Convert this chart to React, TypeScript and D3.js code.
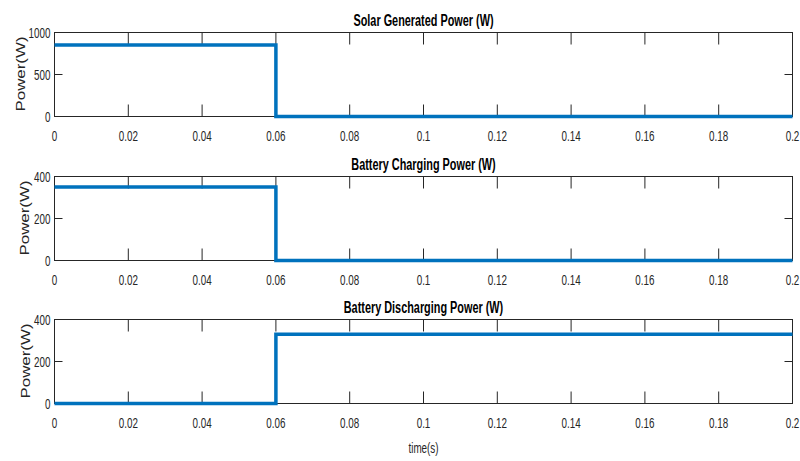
import React from "react";
import * as d3 from "d3";

// Simulation time samples where the power profiles change (s)
const timeBreaks = [0, 0.06, 0.06, 0.2];
const solarPower = [850, 850, 0, 0];
const chargingPower = [350, 350, 0, 0];
const dischargingPower = [0, 0, 330, 330];

const panelTitles = [
  "Solar Generated Power (W)",
  "Battery Charging Power (W)",
  "Battery Discharging Power (W)",
];
const yMaxima = [1000, 400, 400];
const yTickSets = [
  [0, 500, 1000],
  [0, 200, 400],
  [0, 200, 400],
];
const xTickValues = [0, 0.02, 0.04, 0.06, 0.08, 0.1, 0.12, 0.14, 0.16, 0.18, 0.2];

const W = 800;
const H = 461;
const left = 54.5;
const right = 792.5;
const panelTops = [32.5, 176.5, 319.5];
const panelHeight = 84;
const lineColor = "#0072BD";
const axisColor = "#262626";
const font = "'Liberation Sans', Arial, sans-serif";

// Condensed text: horizontally compressed Liberation Sans
function NarrowText({
  x,
  y,
  anchor = "middle",
  size = 14,
  squeeze = 0.7,
  weight = "normal",
  fill = axisColor,
  children,
}: {
  x: number;
  y: number;
  anchor?: "start" | "middle" | "end";
  size?: number;
  squeeze?: number;
  weight?: string;
  fill?: string;
  children: React.ReactNode;
}) {
  return (
    <text
      transform={`translate(${x},${y}) scale(${squeeze},1)`}
      textAnchor={anchor}
      fontFamily={font}
      fontSize={size}
      fontWeight={weight}
      fill={fill}
    >
      {children}
    </text>
  );
}

const ylabelPos = [
  { x: 25, y: 74 },
  { x: 29, y: 218 },
  { x: 29.5, y: 361 },
];

function Panel({ idx, values }: { idx: number; values: number[] }) {
  const top = panelTops[idx];
  const bottom = top + panelHeight;
  const x = d3.scaleLinear().domain([0, 0.2]).range([left, right]);
  const y = d3.scaleLinear().domain([0, yMaxima[idx]]).range([bottom, top]);
  const pts: [number, number][] = timeBreaks.map((t, i) => [t, values[i]]);
  const path = d3
    .line<[number, number]>()
    .x((d) => x(d[0]))
    .y((d) => y(d[1]))(pts);
  const fmtX = (v: number) => (v === 0 ? "0" : String(+v.toFixed(2)));
  return (
    <g>
      <rect
        x={left}
        y={top}
        width={right - left}
        height={panelHeight}
        fill="#fff"
        stroke={axisColor}
        strokeWidth={1}
      />
      {xTickValues.map((t) => (
        <g key={"x" + t}>
          <line x1={x(t)} x2={x(t)} y1={bottom} y2={bottom - 12} stroke={axisColor} strokeWidth={1} />
          <line x1={x(t)} x2={x(t)} y1={top} y2={top + 12} stroke={axisColor} strokeWidth={1} />
          <NarrowText x={x(t)} y={bottom + 24} size={14.5} squeeze={0.68}>
            {fmtX(t)}
          </NarrowText>
        </g>
      ))}
      {yTickSets[idx].map((v) => (
        <g key={"y" + v}>
          <line x1={left} x2={left + 8} y1={y(v)} y2={y(v)} stroke={axisColor} strokeWidth={1} />
          <line x1={right} x2={right - 8} y1={y(v)} y2={y(v)} stroke={axisColor} strokeWidth={1} />
          <NarrowText x={left - 4} y={y(v) + 5.5} anchor="end" size={14.5} squeeze={0.68}>
            {v}
          </NarrowText>
        </g>
      ))}
      <path d={path ?? ""} fill="none" stroke={lineColor} strokeWidth={3.5} />
      <NarrowText
        x={(left + right) / 2}
        y={top - 7}
        size={16}
        squeeze={0.68}
        weight="bold"
        fill="#000"
      >
        {panelTitles[idx]}
      </NarrowText>
      <text
        transform={`translate(${ylabelPos[idx].x},${ylabelPos[idx].y}) rotate(-90) scale(1.3,1)`}
        textAnchor="middle"
        fontFamily={font}
        fontSize={13}
        fill={axisColor}
      >
        Power(W)
      </text>
    </g>
  );
}

export default function App() {
  const series = [solarPower, chargingPower, dischargingPower];
  return (
    <svg
      width={W}
      height={H}
      style={{ position: "absolute", left: 0, top: 0, background: "#fff" }}
    >
      <rect width={W} height={H} fill="#fff" />
      {series.map((s, i) => (
        <Panel key={i} idx={i} values={s} />
      ))}
      <NarrowText x={(left + right) / 2} y={453} size={14.5} squeeze={0.68}>
        time(s)
      </NarrowText>
    </svg>
  );
}
